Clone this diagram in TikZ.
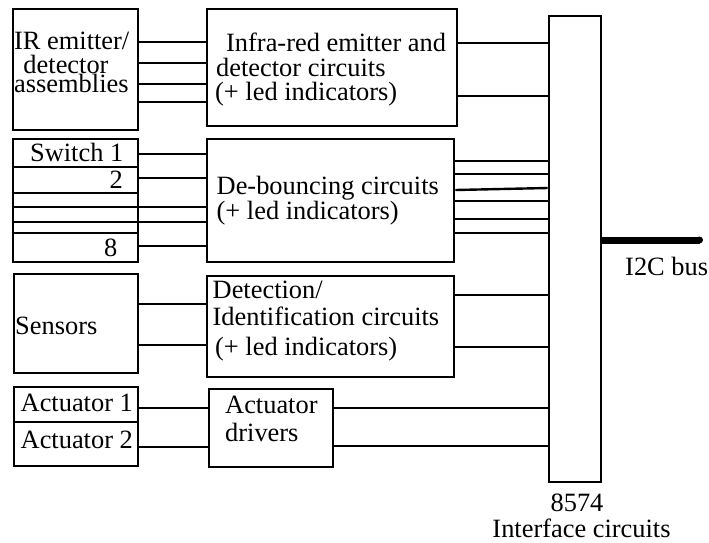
\documentclass[tikz,border=0pt]{standalone}
\usepackage{fontspec}
\setmainfont{Liberation Serif}
\begin{document}
\begin{tikzpicture}[x=1pt,y=-1pt,
  blk/.style={draw, line width=2.8pt, inner sep=0pt},
  wire/.style={line width=2.4pt},
  bus/.style={line width=7pt},
  txt/.style={inner sep=0pt, anchor=base west, font=\fontsize{26.4}{25}\selectfont}]
\useasboundingbox (0,0) rectangle (709,542);
% boxes
\node[blk, minimum width=125pt, minimum height=121pt] (A) at (75.5,69.5) {};
\node[blk, minimum width=250pt, minimum height=117pt] (B) at (332,67.5) {};
\node[blk, minimum width=125pt, minimum height=123pt] (C) at (75.5,200.5) {};
\node[blk, minimum width=247pt, minimum height=123pt] (D) at (330.5,200.5) {};
\node[blk, minimum width=124pt, minimum height=99pt] (E) at (76,323.5) {};
\node[blk, minimum width=247pt, minimum height=101pt] (F) at (330.5,326.5) {};
\node[blk, minimum width=124pt, minimum height=79pt] (G) at (76,426.5) {};
\node[blk, minimum width=124pt, minimum height=78pt] (H) at (271,428) {};
\node[blk, minimum width=52pt, minimum height=466pt] (I) at (575,249) {};
% texts
\node[txt] (ta1) at (14,49) {IR emitter/};
\node[txt, anchor=base] (ta2) at (66,73.5) {detector};
\node[txt] (ta3) at (14,92) {assemblies};
\node[txt] (tb1) at (226,51) {Infra-red emitter and};
\node[txt] (tb2) at (216,76) {detector circuits};
\node[txt] (tb3) at (215,100) {(+ led indicators)};
\node[txt, anchor=base east] (tc1) at (123.5,161) {Switch 1};
\node[txt, anchor=base east] (tc2) at (123,188) {2};
\node[txt, anchor=base east] (tc8) at (117.5,256.5) {8};
\node[txt] (td1) at (216.5,194) {De-bouncing circuits};
\node[txt] (td2) at (216.5,219) {(+ led indicators)};
\node[txt] (te1) at (15,334) {Sensors};
\node[txt] (tf1) at (212.5,298) {Detection/};
\node[txt] (tf2) at (212.5,325) {Identification circuits};
\node[txt] (tf3) at (215,355) {(+ led indicators)};
\node[txt] (tg1) at (20.5,411.5) {Actuator 1};
\node[txt] (tg2) at (20.5,448) {Actuator 2};
\node[txt] (th1) at (225,413) {Actuator};
\node[txt] (th2) at (225,441.5) {drivers};
\node[txt, anchor=base] (ti1) at (577,511.5) {8574};
\node[txt, anchor=base] (ti2) at (581.5,537) {Interface circuits};
\node[txt] (tbus) at (625,275) {I2C bus};
% A -> B
\foreach \y in {42,63,84,102} \draw[wire] (A.east |- 0,\y) -- (B.west |- 0,\y);
% B -> I
\foreach \y in {43,96} \draw[wire] (B.east |- 0,\y) -- (I.west |- 0,\y);
% switch rows
\foreach \y in {167,193,233} \draw[wire] (C.west |- 0,\y) -- (C.east |- 0,\y);
\foreach \y in {207,222} \draw[wire] (C.west |- 0,\y) -- (D.west |- 0,\y);
\foreach \y in {154,178,246} \draw[wire] (C.east |- 0,\y) -- (D.west |- 0,\y);
% D -> I
\foreach \y in {161,174,201,219,233} \draw[wire] (D.east |- 0,\y) -- (I.west |- 0,\y);
\draw[wire] (D.east |- 0,190) -- (I.west |- 0,188);
% E -> F, F -> I
\foreach \y in {304,345} \draw[wire] (E.east |- 0,\y) -- (F.west |- 0,\y);
\foreach \y in {295,347} \draw[wire] (F.east |- 0,\y) -- (I.west |- 0,\y);
% actuators
\draw[wire] (G.west |- 0,422) -- (G.east |- 0,422);
\foreach \y in {408,447} \draw[wire] (G.east |- 0,\y) -- (H.west |- 0,\y);
\foreach \y in {408,446} \draw[wire] (H.east |- 0,\y) -- (I.west |- 0,\y);
% I2C bus
\coordinate (busend) at (699.5,240);
\draw[bus] (I.east |- 0,240) -- (busend);
\fill (busend) circle (3.5pt);
\end{tikzpicture}
\end{document}
